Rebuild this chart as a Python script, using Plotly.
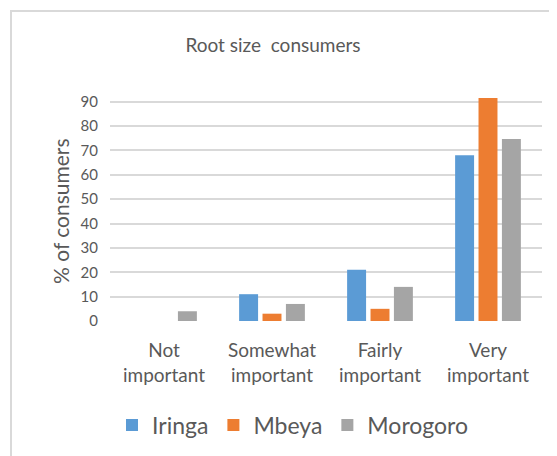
import plotly.graph_objects as go

categories = ["Not<br>important", "Somewhat<br>important", "Fairly<br>important", "Very<br>important"]
iringa = [0, 11, 21, 68]
mbeya = [0, 3, 5, 91.5]
morogoro = [4, 7, 14, 74.7]
y_ticks = [0, 10, 20, 30, 40, 50, 60, 70, 80, 90]

FONT = "Lato"
GRAY = "#595959"

fig = go.Figure()
for name, vals, col in [("Iringa", iringa, "#5B9BD5"),
                        ("Mbeya", mbeya, "#ED7D31"),
                        ("Morogoro", morogoro, "#A5A5A5")]:
    fig.add_trace(go.Bar(x=categories, y=vals, name=name,
                         marker=dict(color=col, line=dict(width=0))))

# page body adds an 8px margin; work in reference pixel coordinates and shift
OFF = 8
W, H = 557 - OFF, 456 - OFF
L, R, T, B = 110 - OFF, 15, 92 - OFF, 135
pw = W - L - R
ph = H - T - B

def px(x):
    return (x - OFF - L) / pw

def py(y):
    return (H - B - (y - OFF)) / ph

fig.update_layout(
    width=W, height=H,
    margin=dict(l=L, r=R, t=T, b=B, pad=0, autoexpand=False),
    paper_bgcolor="white", plot_bgcolor="white",
    font=dict(family=FONT, color=GRAY),
    barmode="group", bargap=0.35, bargroupgap=0.19,
    title=dict(text="Root size  consumers", x=(273 - OFF) / W, xanchor="center",
               y=1 - (45 - OFF) / H, yanchor="middle", font=dict(size=19, color=GRAY)),
    xaxis=dict(showgrid=False, showline=False, ticks="", zeroline=False,
               tickfont=dict(size=19, color=GRAY), ticklabelstandoff=16),
    yaxis=dict(range=[0, 94], tickvals=y_ticks, showgrid=True,
               gridcolor="#D9D9D9", gridwidth=1.5, zeroline=False,
               showline=False, ticks="", tickfont=dict(size=15, color=GRAY),
               ticklabelstandoff=11),
    legend=dict(orientation="h", x=px(293), xanchor="center",
                y=py(425), yanchor="middle", font=dict(size=23, color=GRAY),
                bgcolor="rgba(0,0,0,0)"),
    showlegend=True,
)

fig.add_annotation(text="% of consumers", textangle=-90, xref="paper", yref="paper",
                   x=px(60), y=py(211), xanchor="center", yanchor="middle",
                   showarrow=False, font=dict(size=21, color=GRAY))

fig.add_shape(type="rect", xref="paper", yref="paper",
              x0=px(11), y0=py(11), x1=px(557 + 20), y1=py(456 + 20),
              line=dict(color="#D9D9D9", width=2), fillcolor="rgba(0,0,0,0)",
              layer="below")

fig.write_html("out.html")
